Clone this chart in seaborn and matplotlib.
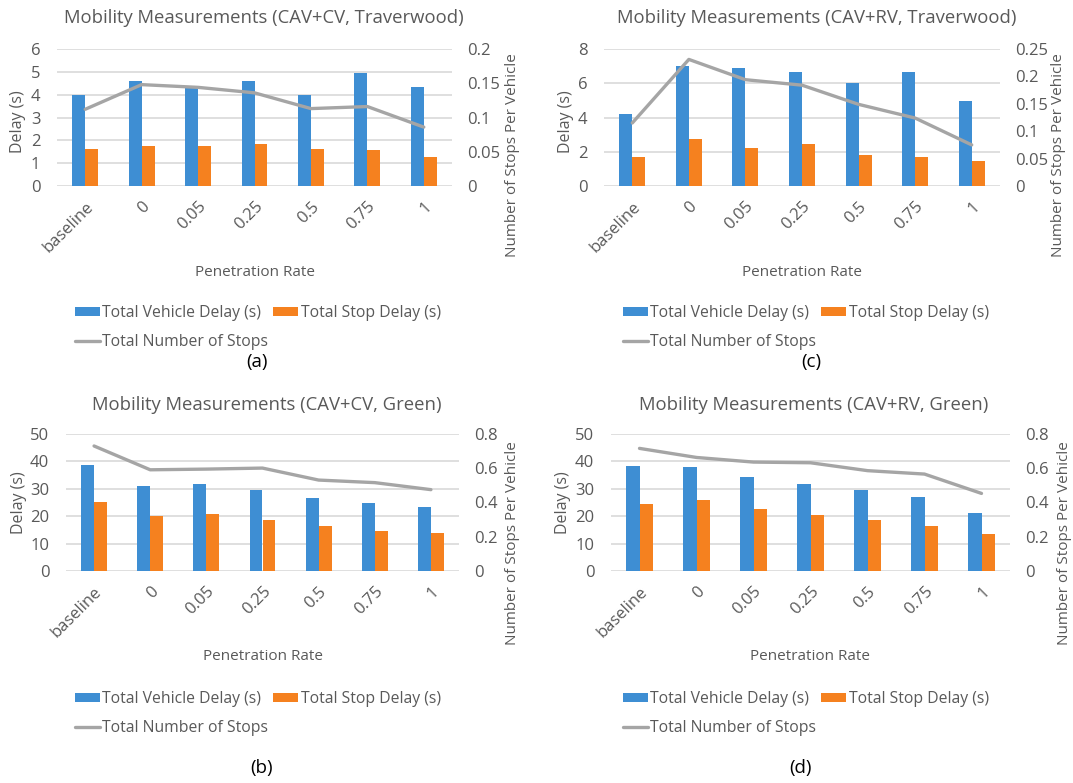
import numpy as np
import pandas as pd
import matplotlib
matplotlib.use("Agg")
import matplotlib.pyplot as plt
import seaborn as sns
from matplotlib.patches import Patch
from matplotlib.lines import Line2D

sns.set_theme(style="white")
plt.rcParams['font.family'] = ['Open Sans', 'DejaVu Sans']

categories = ["baseline", "0", "0.05", "0.25", "0.5", "0.75", "1"]

# (a) CAV+CV, Traverwood
a_vehicle = [4.0, 4.6, 4.4, 4.62, 3.97, 4.95, 4.32]
a_stop = [1.63, 1.76, 1.76, 1.83, 1.60, 1.57, 1.27]
a_nstops = [0.112, 0.148, 0.144, 0.136, 0.113, 0.116, 0.086]

# (c) CAV+RV, Traverwood
c_vehicle = [4.22, 7.0, 6.9, 6.65, 6.02, 6.65, 4.99]
c_stop = [1.71, 2.74, 2.21, 2.45, 1.81, 1.71, 1.46]
c_nstops = [0.115, 0.231, 0.194, 0.184, 0.149, 0.124, 0.075]

# (b) CAV+CV, Green
b_vehicle = [38.8, 30.9, 31.9, 29.6, 26.6, 24.8, 23.2]
b_stop = [25.1, 20.0, 20.8, 18.6, 16.4, 14.6, 13.9]
b_nstops = [0.730, 0.591, 0.595, 0.601, 0.531, 0.516, 0.475]

# (d) CAV+RV, Green
d_vehicle = [38.2, 38.0, 34.4, 31.6, 29.6, 26.9, 21.0]
d_stop = [24.6, 26.0, 22.6, 20.4, 18.6, 16.4, 13.5]
d_nstops = [0.716, 0.663, 0.636, 0.632, 0.586, 0.566, 0.453]

series_names = ["Total Vehicle Delay (s)", "Total Stop Delay (s)"]
line_name = "Total Number of Stops"
BLUE = "#3E8ED3"
ORANGE = "#F5811F"
GRAY = "#A5A5A5"
TXT = "#595959"
GRID = "#D9D9D9"

W, H = 1073, 783
fig = plt.figure(figsize=(W / 100, H / 100), dpi=100)


def fx(px):
    return px / W


def fy(py):
    return 1 - py / H


def panel(rect, vehicle, stop, nstops, ylim_l, yticks_l, ylim_r, yticks_r, rticklabels,
          title, title_xy, dl_xy, rl_xy, pr_xy, leg_xy, tag, tag_xy):
    l, t, r, b = rect
    ax = fig.add_axes([fx(l), fy(b), fx(r - l), (b - t) / H])
    df = pd.DataFrame({
        "rate": categories * 2,
        "delay": list(vehicle) + list(stop),
        "series": [series_names[0]] * len(categories) + [series_names[1]] * len(categories),
    })
    sns.barplot(data=df, x="rate", y="delay", hue="series", order=categories,
                palette=[BLUE, ORANGE], width=0.46, ax=ax, legend=False,
                saturation=1, edgecolor="none")
    ax.set_ylim(*ylim_l)
    ax.set_yticks(yticks_l)
    ax.set_yticklabels([f"{v:g}" for v in yticks_l])
    ax.set_xlim(-0.5, len(categories) - 0.5)
    ax.grid(axis="y", color=GRID, linewidth=1.2)
    ax.set_axisbelow(True)
    for s in ax.spines.values():
        s.set_visible(False)
    ax.tick_params(axis="both", length=0, colors=TXT, labelsize=12)
    ax.tick_params(axis="y", pad=12)
    ax.set_xticks(range(len(categories)))
    ax.set_xticklabels(categories, rotation=45, ha="right", rotation_mode="anchor")
    ax.tick_params(axis="x", pad=9)
    ax.set_xlabel("")
    ax.set_ylabel("")

    ax2 = ax.twinx()
    sns.lineplot(x=np.arange(len(categories)), y=nstops, ax=ax2, color=GRAY,
                 linewidth=2.4, sort=False, legend=False)
    ax2.set_ylim(*ylim_r)
    ax2.set_yticks(yticks_r)
    ax2.set_yticklabels(rticklabels)
    for s in ax2.spines.values():
        s.set_visible(False)
    ax2.tick_params(axis="y", length=0, colors=TXT, labelsize=12, pad=11)
    ax2.set_ylabel("")
    ax2.set_xlim(-0.5, len(categories) - 0.5)

    fig.text(fx(title_xy[0]), fy(title_xy[1]), title, ha="center", va="center",
             fontsize=13.3, color=TXT)
    fig.text(fx(dl_xy[0]), fy(dl_xy[1]), "Delay (s)", ha="center", va="center",
             rotation=90, fontsize=11.5, color=TXT)
    fig.text(fx(rl_xy[0]), fy(rl_xy[1]), "Number of Stops Per Vehicle", ha="center",
             va="center", rotation=90, fontsize=11, color=TXT)
    fig.text(fx(pr_xy[0]), fy(pr_xy[1]), "Penetration Rate", ha="center", va="center",
             fontsize=11, color=TXT)
    handles = [Patch(facecolor=BLUE, edgecolor="none"),
               Line2D([0], [0], color=GRAY, linewidth=2.4),
               Patch(facecolor=ORANGE, edgecolor="none")]
    labels = [series_names[0], line_name, series_names[1]]
    fig.legend(handles, labels, loc="upper left",
               bbox_to_anchor=(fx(leg_xy[0]), fy(leg_xy[1])), ncol=2, frameon=False,
               fontsize=11.3, labelcolor=TXT, handlelength=1.6, handleheight=0.5,
               handletextpad=0.15, columnspacing=0.3, labelspacing=0.85,
               borderaxespad=0, borderpad=0)
    fig.text(fx(tag_xy[0]), fy(tag_xy[1]), tag, ha="center", va="center",
             fontsize=13.5, color="black")


panel((57, 49, 452, 186), a_vehicle, a_stop, a_nstops, (0, 6), [0, 1, 2, 3, 4, 5, 6],
      (0, 0.2), [0, 0.05, 0.1, 0.15, 0.2], ["0", "0.05", "0.1", "0.15", "0.2"],
      "Mobility Measurements (CAV+CV, Traverwood)", (264, 18), (18, 122), (513, 155),
      (255, 272), (75, 305), "(a)", (257, 362))

panel((604, 49, 1000, 186), c_vehicle, c_stop, c_nstops, (0, 8), [0, 2, 4, 6, 8],
      (0, 0.25), [0, 0.05, 0.1, 0.15, 0.2, 0.25], ["0", "0.05", "0.1", "0.15", "0.2", "0.25"],
      "Mobility Measurements (CAV+RV, Traverwood)", (817, 18), (566, 122), (1058, 155),
      (802, 272), (623, 305), "(c)", (811, 362))

panel((66, 434, 459, 571), b_vehicle, b_stop, b_nstops, (0, 50), [0, 10, 20, 30, 40, 50],
      (0, 0.8), [0, 0.2, 0.4, 0.6, 0.8], ["0", "0.2", "0.4", "0.6", "0.8"],
      "Mobility Measurements (CAV+CV, Green)", (267, 405), (19, 503), (513, 543),
      (263, 657), (75, 691), "(b)", (262, 768))

panel((611, 434, 1010, 571), d_vehicle, d_stop, d_nstops, (0, 50), [0, 10, 20, 30, 40, 50],
      (0, 0.8), [0, 0.2, 0.4, 0.6, 0.8], ["0", "0.2", "0.4", "0.6", "0.8"],
      "Mobility Measurements (CAV+RV, Green)", (814, 405), (563, 503), (1064, 543),
      (810, 657), (623, 691), "(d)", (800, 768))

fig.savefig("out.png", dpi=100, facecolor="white")
